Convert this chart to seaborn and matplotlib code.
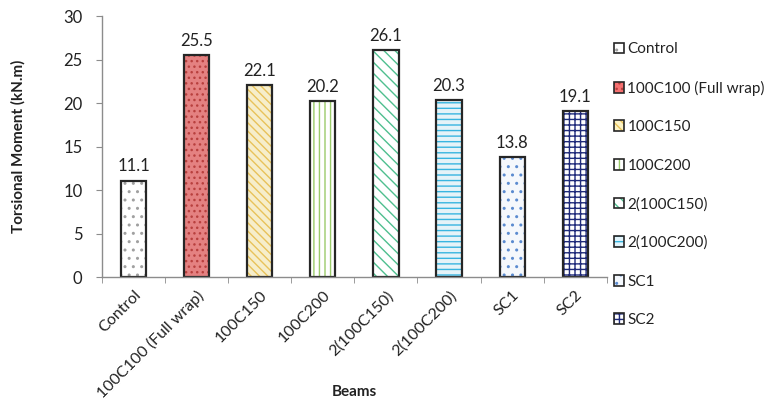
import matplotlib
matplotlib.use("Agg")
import matplotlib.pyplot as plt
import seaborn as sns
import pandas as pd
from matplotlib.patches import Patch

beams = ["Control", "100C100 (Full wrap)", "100C150", "100C200",
         "2(100C150)", "2(100C200)", "SC1", "SC2"]
torsion = [11.1, 25.5, 22.1, 20.2, 26.1, 20.3, 13.8, 19.1]

fills = ["#FFFFFF", "#F57070", "#FDF3C4", "#FFFFFF",
         "#FFFFFF", "#E2F4FB", "#F4F8FD", "#FFFFFF"]
hatch_colors = ["#A0A0A0", "#B8403E", "#E8C25A", "#9BCB6B",
                "#4FBF8F", "#38B5E0", "#5B8BD0", "#1F2A7A"]
hatches = ["..", "...", "\\\\\\\\", "|||", "\\\\\\", "---", "..", "+++"]

sns.set_style("white")
plt.rcParams["font.family"] = ["Lato", "DejaVu Sans"]
plt.rcParams["hatch.linewidth"] = 1.0

df = pd.DataFrame({"Beams": beams, "Torsion": torsion})

fig = plt.figure(figsize=(7.78, 4.01), dpi=100)
ax = fig.add_axes([0.131, 0.309, 0.649, 0.651])

# hatched fill layer (hatch colour follows edgecolor)
sns.barplot(data=df, x="Beams", y="Torsion", hue="Beams", palette=fills,
            dodge=False, width=0.4, legend=False, ax=ax, errorbar=None,
            linewidth=0)
for p, h, hc in zip(ax.patches, hatches, hatch_colors):
    p.set_hatch(h)
    p.set_edgecolor(hc)
    p.set_linewidth(0)

# outline layer
sns.barplot(data=df, x="Beams", y="Torsion", fill=False, width=0.4,
            ax=ax, errorbar=None, edgecolor="#262626", linewidth=1.6)

ax.set_ylim(0, 30)
ax.set_yticks(range(0, 31, 5))
ax.set_xlim(-0.5, len(beams) - 0.5)

for i, v in enumerate(torsion):
    ax.text(i, v + 0.7, f"{v:.1f}", ha="center", va="bottom",
            fontsize=12, color="#222222")

for s in ["top", "right"]:
    ax.spines[s].set_visible(False)
for s in ["left", "bottom"]:
    ax.spines[s].set_color("#8C8C8C")
    ax.spines[s].set_linewidth(1.0)

ax.set_xticks(range(len(beams)))
ax.set_xticklabels(beams, rotation=45, ha="right", rotation_mode="anchor",
                   fontsize=11.5, color="#222222")
ax.tick_params(axis="x", length=0, pad=8)
ax.tick_params(axis="y", length=4, color="#8C8C8C", labelsize=12,
               labelcolor="#222222", left=True, direction="out", pad=10)
# minor ticks between categories
ax.set_xticks([i + 0.5 for i in range(-1, len(beams))], minor=True)
ax.tick_params(axis="x", which="minor", length=4, color="#8C8C8C",
               bottom=True, direction="out")

ax.set_ylabel("Torsional Moment (kN.m)", fontsize=11, fontweight="bold",
              color="#222222")
ax.yaxis.set_label_coords(-0.152, 0.5)
ax.set_xlabel("Beams", fontsize=11, fontweight="bold", color="#222222")
ax.xaxis.set_label_coords(0.5, -0.415)

handles = [Patch(facecolor=f, edgecolor=hc, hatch=h, linewidth=0)
           for f, hc, h in zip(fills, hatch_colors, hatches)]
outline = [Patch(facecolor="none", edgecolor="#262626", linewidth=1.2)
           for _ in beams]
leg = fig.legend(handles=[(a, b) for a, b in zip(handles, outline)],
                 labels=beams, loc="upper left",
                 bbox_to_anchor=(0.781, 0.91), frameon=False,
                 fontsize=11, handlelength=0.7, handleheight=0.7,
                 handletextpad=0.2, labelspacing=1.6, borderaxespad=0)
for t in leg.get_texts():
    t.set_color("#222222")

fig.savefig("out.png", dpi=100)
